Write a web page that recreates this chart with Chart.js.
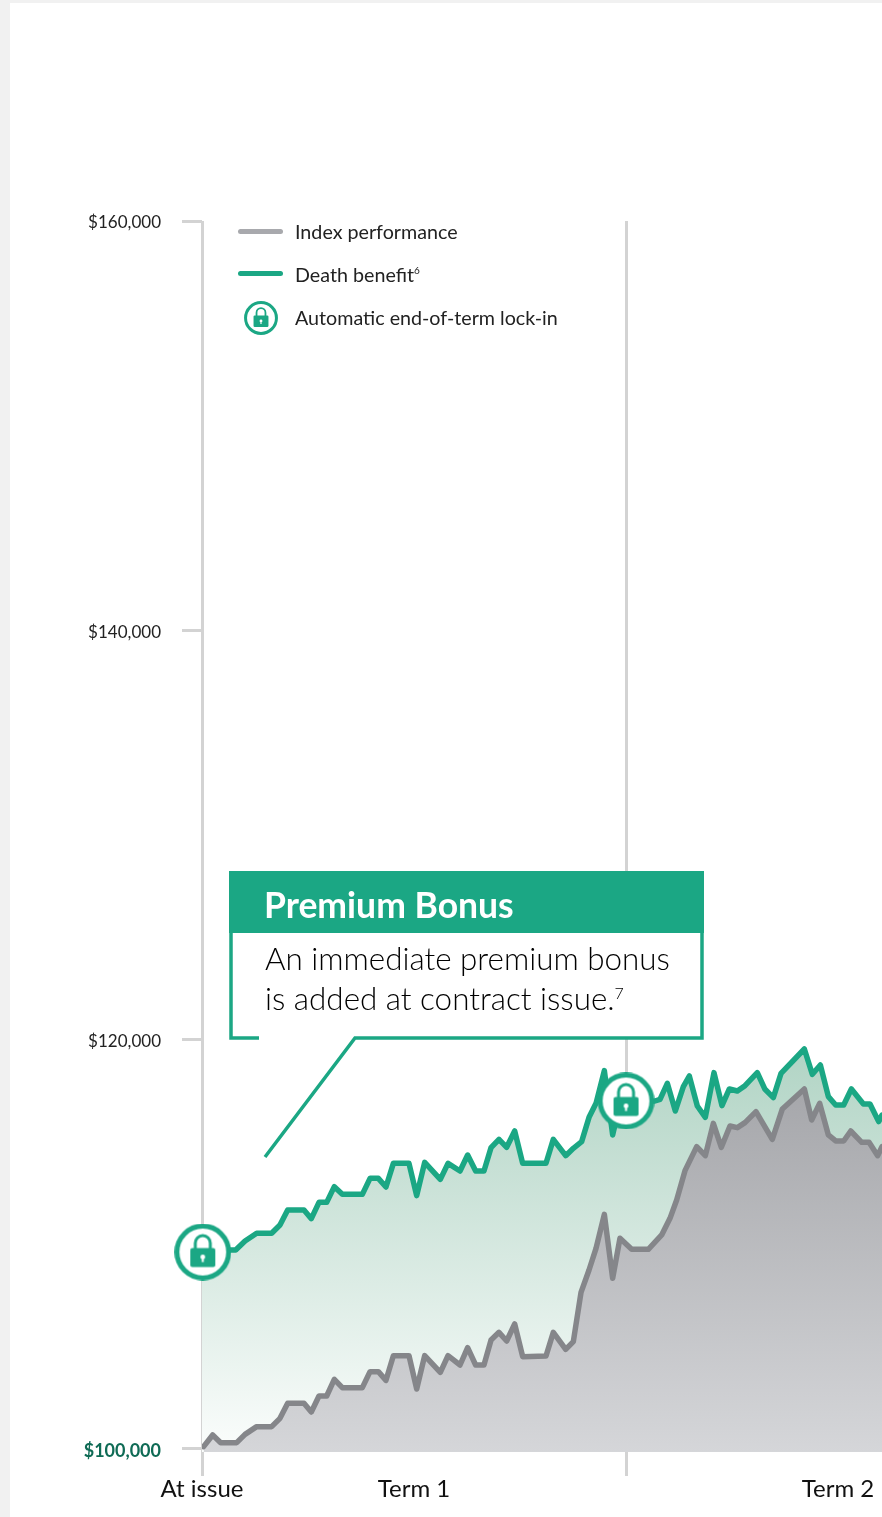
<!DOCTYPE html>
<html lang="en">
<head>
<meta charset="utf-8">
<title>Premium Bonus chart</title>
<script src="https://cdn.jsdelivr.net/npm/chart.js@4"></script>
<style>
  html, body { margin: 0; padding: 0; background: #f1f1f1; }
  #page { position: relative; width: 882px; height: 1517px; overflow: hidden; font-family: Lato, sans-serif; }
  #sheet { position: absolute; left: 10px; top: 3px; right: 0; bottom: 0; background: #fff; }
  canvas#chart { position: absolute; left: 0; top: 0; }
  #shapes { position: absolute; left: 0; top: 0; pointer-events: none; }
  .legend-row { position: absolute; left: 295px; font-size: 19.7px; font-weight: 400; color: #222; line-height: 24px; white-space: nowrap; }
  .legend-row sup { font-size: 10px; line-height: 0; }
  .legend-line { position: absolute; left: 238px; width: 45px; height: 5px; border-radius: 3px; }
  #legend-lock { position: absolute; left: 244px; top: 301px; }
  #callout-head { position: absolute; left: 229px; top: 871px; width: 475px; height: 62px; background: #1ba784; color: #fff; font-size: 35.5px; font-weight: 700; line-height: 68px; text-indent: 35px; }
  #callout-body { position: absolute; left: 229px; top: 933px; width: 474px; height: 105px; background: #fff; }
  #callout-text { position: absolute; left: 265px; top: 938px; font-size: 31.4px; font-weight: 300; line-height: 40px; color: #000; white-space: nowrap; }
  #callout-text sup { font-size: 16px; line-height: 0; }
</style>
</head>
<body>
<div id="page">
  <div id="sheet"></div>
  <canvas id="chart" width="882" height="1517"></canvas>

  <div id="callout-body"></div>
  <div id="callout-head">Premium Bonus</div>
  <div id="callout-text">An immediate premium bonus<br>is added at contract issue.<sup>7</sup></div>
  <svg id="shapes" width="882" height="1517">
    <path d="M231 933 V1038 H259 M265 1157 L355 1038 H702 V933" fill="none" stroke="#1ba784" stroke-width="3.5"/>
  </svg>

  <div class="legend-line" style="top:229px;background:#a8a9ad"></div>
  <div class="legend-row" style="top:220px">Index performance</div>
  <div class="legend-line" style="top:271px;background:#1ba784"></div>
  <div class="legend-row" style="top:263px">Death benefit<sup>6</sup></div>
  <canvas id="legend-lock" width="34" height="34"></canvas>
  <div class="legend-row" style="top:306px">Automatic end-of-term lock-in</div>
</div>

<script>
// x values are steps along the axis, one term = 54 steps
const tickSteps = [0, 27, 54, 81];
const tickLabels = ["At issue", "Term 1", "", "Term 2"];
const dividerSteps = [0, 54];

const yTickValues = [100000, 120000, 140000, 160000];
const yTickLabels = ["$100,000", "$120,000", "$140,000", "$160,000"];

const benefitSteps = [0, 4.29, 5.48, 6.96, 8.87, 9.93, 10.91, 12.99, 13.92, 14.9, 15.88, 16.85, 17.87, 20.42, 21.4, 22.46, 23.43, 24.37, 26.36, 27.34, 28.36, 30.35, 31.33, 32.86, 33.83, 34.85, 35.91, 36.81, 37.82, 38.8, 39.82, 40.84, 43.81, 44.74, 46.32, 47.29, 48.35, 49.29, 50.18, 51.24, 52.3, 53.23, 54.93, 57.69, 58.33, 59.26, 60.28, 61.3, 62.06, 63.08, 64.1, 65.2, 66.22, 67.16, 68.18, 69.15, 70.72, 71.7, 72.76, 73.74, 76.71, 77.73, 78.75, 79.77, 80.7, 81.72, 82.7, 84.23, 85.07, 86.18, 86.6];
const benefitValues = [109723, 109723, 110163, 110538, 110538, 110945, 111678, 111678, 111254, 112052, 112052, 112818, 112443, 112443, 113225, 113225, 112801, 113958, 113958, 112378, 114007, 113176, 113958, 113583, 114365, 113583, 113583, 114723, 115130, 114740, 115538, 113958, 113958, 115130, 114332, 114691, 115016, 116205, 116889, 118486, 115342, 116889, 116971, 117003, 117085, 117867, 116515, 117704, 118225, 116759, 116205, 118388, 116775, 117590, 117492, 117753, 118388, 117574, 117166, 118355, 119544, 118306, 118762, 117215, 116808, 116808, 117590, 116857, 116857, 115994, 116319];

const indexSteps = [0.2, 1.36, 2.38, 4.42, 5.48, 6.96, 8.87, 9.93, 10.91, 12.99, 13.92, 14.9, 15.88, 16.85, 17.87, 20.42, 21.4, 22.46, 23.43, 24.37, 26.36, 27.34, 28.36, 30.35, 31.33, 32.86, 33.83, 34.85, 35.91, 36.81, 37.82, 38.8, 39.82, 40.84, 43.81, 44.74, 46.32, 47.29, 48.27, 49.29, 50.18, 51.24, 52.3, 53.23, 54.72, 56.84, 58.54, 59.6, 60.45, 61.51, 63, 64.1, 65.12, 66.14, 67.24, 68.18, 69.15, 70.55, 72.63, 73.91, 76.71, 77.64, 78.66, 79.77, 80.7, 81.72, 82.62, 84.02, 84.95, 86.05, 86.6];
const indexValues = [100114, 100684, 100309, 100309, 100716, 101091, 101091, 101498, 102231, 102231, 101808, 102589, 102589, 103404, 102997, 102997, 103778, 103778, 103355, 104560, 104560, 102932, 104560, 103746, 104560, 104104, 104951, 104104, 104104, 105326, 105700, 105277, 106108, 104511, 104544, 105700, 104870, 105244, 107655, 108746, 109805, 111466, 108339, 110293, 109756, 109756, 110456, 111270, 112166, 113599, 114772, 114332, 115912, 114740, 115782, 115701, 115945, 116482, 115130, 116613, 117590, 116075, 116889, 115342, 115049, 115049, 115538, 114984, 114984, 114332, 114772];

const lockSteps = [0.1, 54];
const lockValues = [109625, 117003];

const teal = '#1ba784';
const axisGray = '#d3d3d3';

// circle with padlock, used for the point style and the legend
function drawLock(canvas, size) {
    const c = canvas.getContext('2d');
    const m = size / 57;
    const mid = size / 2;
    c.clearRect(0, 0, size, size);
    c.beginPath();
    c.arc(mid, mid, mid - 2.6 * m, 0, Math.PI * 2);
    c.fillStyle = '#fff';
    c.fill();
    c.lineWidth = 5 * m;
    c.strokeStyle = teal;
    c.stroke();
    // shackle
    c.beginPath();
    c.arc(mid, mid - 9 * m, 7.5 * m, Math.PI, 0);
    c.lineTo(mid + 7.5 * m, mid - 3 * m);
    c.moveTo(mid - 7.5 * m, mid - 9 * m);
    c.lineTo(mid - 7.5 * m, mid - 3 * m);
    c.lineWidth = 3 * m;
    c.stroke();
    // body
    c.beginPath();
    c.roundRect(mid - 12.5 * m, mid - 4 * m, 25 * m, 19 * m, 2 * m);
    c.fillStyle = teal;
    c.fill();
    // keyhole
    c.beginPath();
    c.arc(mid, mid + 5 * m, 2.4 * m, 0, Math.PI * 2);
    c.rect(mid - 1 * m, mid + 5 * m, 2 * m, 5 * m);
    c.fillStyle = '#fff';
    c.fill();
}

const lockImg = document.createElement('canvas');
lockImg.width = 57;
lockImg.height = 57;
drawLock(lockImg, 57);
drawLock(document.getElementById('legend-lock'), 34);

function toPoints(xs, ys) {
    return xs.map((x, i) => ({ x: x, y: ys[i] }));
}

function areaFill(ctx, stops) {
    const chart = ctx.chart;
    if (!chart.chartArea) return stops[0];
    const g = chart.ctx.createLinearGradient(0, chart.scales.y.getPixelForValue(stops[2]), 0, chart.chartArea.bottom);
    g.addColorStop(0, stops[0]);
    g.addColorStop(1, stops[1]);
    return g;
}

new Chart(document.getElementById('chart').getContext('2d'), {
    type: 'line',
    data: {
        datasets: [
            {
                label: 'Automatic end-of-term lock-in',
                data: toPoints(lockSteps, lockValues),
                showLine: false,
                pointStyle: lockImg,
                pointRadius: 28,
                clip: false,
                order: 0
            },
            {
                label: 'Index performance',
                data: toPoints(indexSteps, indexValues),
                borderColor: '#85868a',
                borderWidth: 5.5,
                borderJoinStyle: 'round',
                borderCapStyle: 'round',
                backgroundColor: (ctx) => areaFill(ctx, ['#a2a3a7', '#d5d6d9', 119000]),
                fill: 'start',
                pointRadius: 0,
                tension: 0,
                order: 1
            },
            {
                label: 'Death benefit',
                data: toPoints(benefitSteps, benefitValues),
                borderColor: teal,
                borderWidth: 5.5,
                borderJoinStyle: 'round',
                borderCapStyle: 'round',
                backgroundColor: (ctx) => areaFill(ctx, ['#b3d5c6', '#fbfdfc', 119000]),
                fill: 'start',
                pointRadius: 0,
                tension: 0,
                order: 2
            }
        ]
    },
    options: {
        responsive: false,
        animation: false,
        events: [],
        layout: { autoPadding: false, padding: { top: 221, right: 0, left: 0, bottom: 0 } },
        plugins: { legend: { display: false }, tooltip: { enabled: false } },
        scales: {
            x: {
                type: 'linear',
                min: 0,
                max: 86.6,
                afterFit: (s) => { s.height = 65; },
                afterBuildTicks: (s) => { s.ticks = tickSteps.map(v => ({ value: v })); },
                border: { display: false },
                grid: {
                    lineWidth: 3,
                    tickLength: 24,
                    color: (ctx) => dividerSteps.includes(ctx.tick.value) ? axisGray : 'rgba(0,0,0,0)'
                },
                ticks: {
                    autoSkip: false,
                    maxRotation: 0,
                    padding: -1,
                    color: '#111',
                    font: { family: 'Lato', size: 24, weight: '400' },
                    callback: (v, i) => tickLabels[i]
                }
            },
            y: {
                type: 'linear',
                min: 99853,
                max: 160000,
                afterFit: (s) => { s.width = 202; },
                afterBuildTicks: (s) => { s.ticks = yTickValues.map(v => ({ value: v })); },
                border: { display: false },
                grid: { drawOnChartArea: false, lineWidth: 3, tickLength: 20, color: axisGray },
                ticks: {
                    padding: 21,
                    labelOffset: 2,
                    color: (ctx) => ctx.index === 0 ? '#0f6b55' : '#222',
                    font: (ctx) => ctx.index === 0
                        ? { family: 'Lato', size: 18, weight: '700' }
                        : { family: 'Lato', size: 17, weight: '400' },
                    callback: (v, i) => yTickLabels[i]
                }
            }
        }
    }
});
</script>
</body>
</html>
